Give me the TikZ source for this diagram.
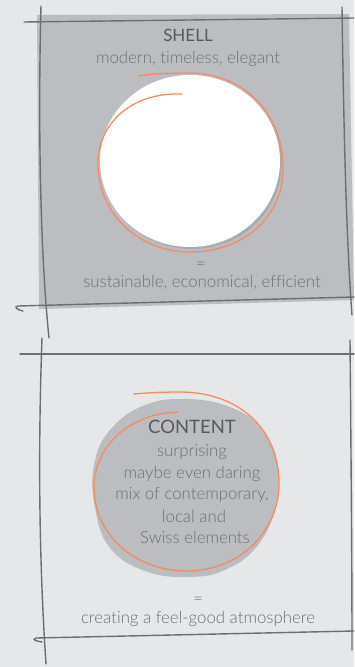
\documentclass[tikz,border=0pt]{standalone}
\usepackage{fontspec}
\setmainfont{Lato Light}[Ligatures=NoCommon]
\newfontfamily\titlefont{Lato}[Ligatures=NoCommon]
\definecolor{bgc}{HTML}{E6E7E8}
\definecolor{boxfill}{HTML}{BCBDC0}
\definecolor{shadowc}{HTML}{A9AAAD}
\definecolor{linec}{HTML}{6D6E71}
\definecolor{orangec}{HTML}{F58B65}
\definecolor{textc}{HTML}{6F7073}
\definecolor{titlec}{HTML}{58595B}
\tikzset{
  sketch/.style={draw=linec, line width=1.4pt, line cap=round},
  spiral/.style={draw=orangec, line width=1.3pt, line cap=round},
  body/.style={text=textc, font=\fontsize{16.8}{18}\selectfont, inner sep=0pt, anchor=base},
  title/.style={text=titlec, font=\titlefont\fontsize{17}{19}\selectfont, inner sep=0pt, anchor=base}
}
\begin{document}
\begin{tikzpicture}[x=1pt,y=-1pt]
\useasboundingbox (0,0) rectangle (354,667);
\fill[bgc] (0,0) rectangle (354,667);
% ---------- top box ----------
\fill[boxfill] (37,15) -- (349,14) -- (354,300) -- (39,309) -- cycle;
\fill[shadowc] (192,163) ellipse [x radius=90, y radius=86];
\fill[white] (190,161) ellipse [x radius=90, y radius=86];
\draw[sketch] (24,22) -- (354,18);
\draw[sketch] (41,6) .. controls (38,120) and (40,250) .. (49,338);
\draw[sketch] (342,7) .. controls (344,150) and (347,250) .. (352,315);
\draw[sketch] (23,311) .. controls (18,310) and (13,307) .. (18,306) -- (354,297);
\draw[spiral] (182,94) .. controls (130,92) and (98,125) .. (98,163)
  .. controls (98,215) and (140,252) .. (190,252)
  .. controls (245,252) and (285,215) .. (283,165)
  .. controls (282,110) and (240,73) .. (190,73)
  .. controls (165,73) and (150,74) .. (138,76);
\node[title] (shell) at (188,41) {SHELL};
\node[body] (shellsub) at (188,63) {modern, timeless, elegant};
\node[body] (shelleq) at (201,269) {=};
\node[body] (shellres) at (202,287) {sustainable, economical, efficient};
% ---------- bottom box ----------
\fill[boxfill] plot[smooth cycle, tension=0.7] coordinates {
  (190,399) (235,409) (262,430) (277,463) (276,505) (258,545) (225,570)
  (187,577) (145,571) (110,548) (95,508) (94,465) (110,430) (145,405)};
\draw[sketch] (20,354) -- (354,354);
\draw[sketch] (42,338) .. controls (38,450) and (39,560) .. (46,664);
\draw[sketch] (350,340) .. controls (351,450) and (352,560) .. (352,650);
\draw[sketch] (42,642) .. controls (37,641) and (31,640) .. (36,638) -- (354,631);
\draw[spiral] (178,412) .. controls (125,414) and (94,450) .. (94,487)
  .. controls (94,535) and (135,571) .. (187,571)
  .. controls (240,571) and (281,530) .. (279,480)
  .. controls (277,425) and (235,392) .. (180,392)
  .. controls (160,392) and (145,393) .. (134,394);
\node[title, font=\titlefont\fontsize{18.5}{20}\selectfont] (content) at (192,433) {CONTENT};
\node[body] (c1) at (192,456) {surprising};
\node[body] (c2) at (192,478) {maybe even daring};
\node[body] (c3) at (192,499) {mix of contemporary,};
\node[body] (c4) at (194,522) {local and};
\node[body] (c5) at (195,543) {Swiss elements};
\node[body] (conteq) at (198,604) {=};
\node[body] (contres) at (198,623) {creating a feel-good atmosphere};
\end{tikzpicture}
\end{document}
